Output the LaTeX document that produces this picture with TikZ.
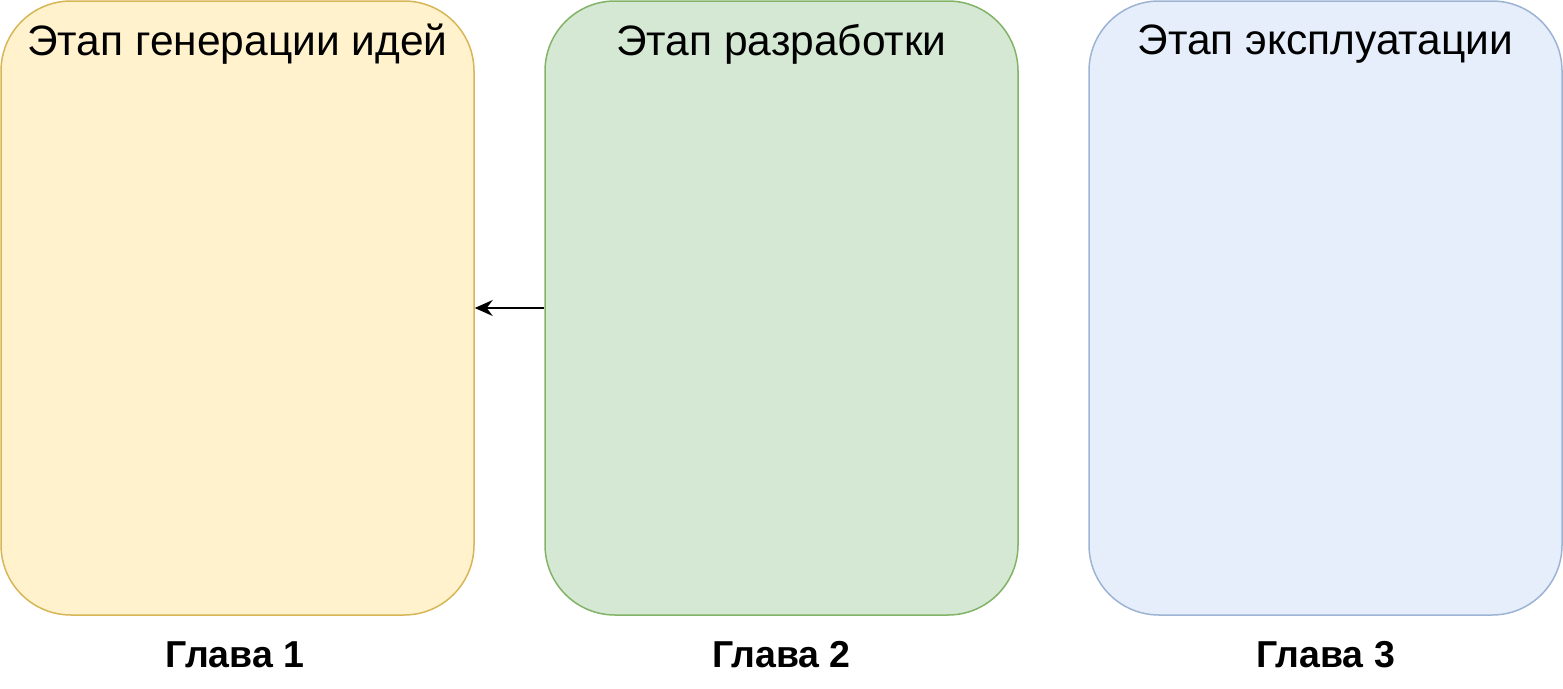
\documentclass[tikz,border=0pt]{standalone}
\usepackage{fontspec}
\setmainfont{Liberation Sans}
\usetikzlibrary{arrows.meta}
\definecolor{yf}{HTML}{FFF2CC}\definecolor{ys}{HTML}{D6B656}
\definecolor{gf}{HTML}{D5E8D4}\definecolor{gs}{HTML}{82B366}
\definecolor{bf}{HTML}{E6EEFB}\definecolor{bs}{HTML}{9DB3D3}
\begin{document}
\begin{tikzpicture}[x=1pt,y=-1pt,
  stage/.style={draw,line width=1.5pt,rounded corners=70pt,minimum width=473pt,minimum height=614pt,inner sep=0pt},
  title/.style={font=\fontsize{42.5}{48}\selectfont},
  chap/.style={font=\fontsize{37.5}{44}\selectfont\bfseries}]
\useasboundingbox (0,0) rectangle (1563,688);
\node[stage,fill=yf,draw=ys] (s1) at (237.5,308) {};
\node[stage,fill=gf,draw=gs] (s2) at (781.5,308) {};
\node[stage,fill=bf,draw=bs] (s3) at (1325.5,308) {};
\node[title] (t1) at (237.5,44) {Этап генерации идей};
\node[title] (t2) at (781.5,44) {Этап разработки};
\node[title] (t3) at (1325.5,44) {Этап эксплуатации};
\node[chap] (c1) at (235,655) {Глава 1};
\node[chap] (c2) at (781.5,655) {Глава 2};
\node[chap] (c3) at (1325.5,655) {Глава 3};
\draw[line width=2pt,-{Stealth[length=18pt,width=16pt,inset=6pt]}] (s2.west) -- (s1.east);
\end{tikzpicture}
\end{document}
